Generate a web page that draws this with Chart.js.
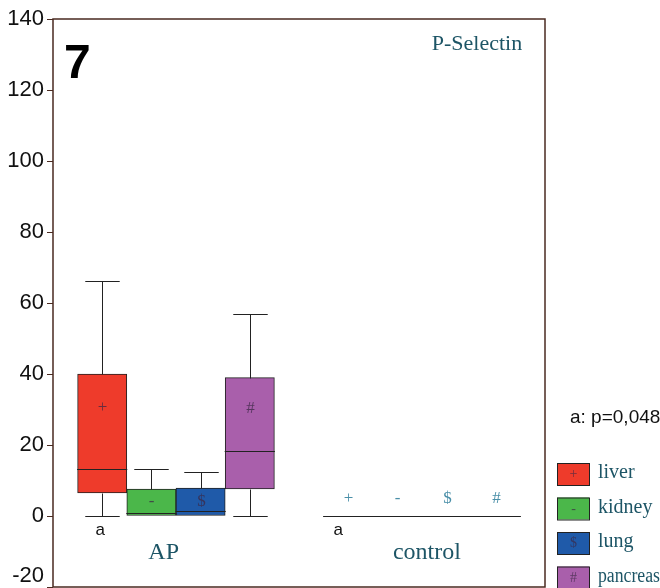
<!DOCTYPE html>
<html>
<head>
<meta charset="utf-8">
<style>
  html, body { margin: 0; padding: 0; background: #fff; }
  #wrap { width: 660px; height: 588px; }
</style>
<script src="https://cdn.jsdelivr.net/npm/chart.js"></script>
</head>
<body>
<div id="wrap"><canvas id="chart"></canvas></div>
<script>
// data
const groups = ['AP', 'control'];
const organs = ['liver', 'kidney', 'lung', 'pancreas'];
const symbols = ['+', '-', '$', '#'];
const colors = ['#ee3b2b', '#4bb74a', '#1f5aa9', '#a95fab'];

// AP: min, q1, median, q3, max, mean
const apMin = [0, 0, 0, 0];
const apQ1 = [6.5, 0, 0, 7.6];
const apMedian = [13.3, 0.8, 1.5, 18.2];
const apQ3 = [40, 7.6, 7.9, 39];
const apMax = [66.2, 13.3, 12.5, 57];
const apMean = [30.6, 4, 4, 30.4];

// control: all collapsed at zero
const ctrlMin = [0, 0, 0, 0];
const ctrlQ1 = [0, 0, 0, 0];
const ctrlMedian = [0, 0, 0, 0];
const ctrlQ3 = [0, 0, 0, 0];
const ctrlMax = [0, 0, 0, 0];
const ctrlMean = [5, 5, 5, 5];

const yMin = -20, yMax = 140, yStep = 20;
const pValueNote = 'a: p=0,048';
const panelNumber = '7';
const panelTitle = 'P-Selectin';

const stats = [
  { min: apMin, q1: apQ1, med: apMedian, q3: apQ3, max: apMax, mean: apMean },
  { min: ctrlMin, q1: ctrlQ1, med: ctrlMedian, q3: ctrlQ3, max: ctrlMax, mean: ctrlMean }
];

// x position: one unit per box, gap of one between groups
const xPos = (g, i) => g * 5 + i + 1;

const boxData = [], boxColors = [];
stats.forEach((s, g) => {
  organs.forEach((o, i) => {
    boxData.push({ x: xPos(g, i), y: [s.q1[i], s.q3[i]] });
    boxColors.push(colors[i]);
  });
});

const serif = '"Liberation Serif", "DejaVu Serif", serif';
const sans = '"Liberation Sans", Arial, sans-serif';
const teal = '#1d5566';
const frame = '#4a2a20';

const boxPlugin = {
  id: 'boxExtras',
  afterDatasetsDraw(chart) {
    const ctx = chart.ctx;
    const x = chart.scales.x, y = chart.scales.y;
    const half = (x.getPixelForValue(1) - x.getPixelForValue(0)) / 2;
    const cap = half * 0.7;
    ctx.save();
    ctx.strokeStyle = '#222';
    ctx.lineWidth = 1;
    stats.forEach((s, g) => {
      organs.forEach((o, i) => {
        const xc = x.getPixelForValue(xPos(g, i));
        const cx = Math.round(xc) + 0.5;
        const line = (x1, y1, x2, y2) => {
          ctx.beginPath(); ctx.moveTo(x1, y1); ctx.lineTo(x2, y2); ctx.stroke();
        };
        const py = v => Math.round(y.getPixelForValue(v)) + 0.5;
        // whiskers
        if (s.max[i] > s.q3[i]) line(cx, py(s.q3[i]), cx, py(s.max[i]));
        if (s.min[i] < s.q1[i]) line(cx, py(s.q1[i]), cx, py(s.min[i]));
        if (g === 0) {
          line(cx - cap, py(s.max[i]), cx + cap, py(s.max[i]));
          if (s.min[i] < s.q1[i]) line(cx - cap, py(s.min[i]), cx + cap, py(s.min[i]));
        }
        // median
        line(xc - half - 0.5, py(s.med[i]), xc + half + 0.5, py(s.med[i]));
        // mean marker
        ctx.fillStyle = g === 0 ? 'rgba(60,40,70,0.75)' : '#4a8fa8';
        ctx.font = '17px ' + serif;
        ctx.textAlign = 'center';
        ctx.textBaseline = 'middle';
        ctx.fillText(symbols[i], cx, y.getPixelForValue(s.mean[i]));
      });
      // significance letter under liver
      ctx.fillStyle = '#111';
      ctx.font = '17px ' + sans;
      ctx.textAlign = 'center';
      ctx.textBaseline = 'middle';
      ctx.fillText('a', x.getPixelForValue(xPos(g, 0)) - (g === 0 ? 2 : 10), y.getPixelForValue(yMin) - 57);
    });
    ctx.restore();
  },
  afterDraw(chart) {
    const ctx = chart.ctx;
    const a = chart.chartArea;
    const x = chart.scales.x, y = chart.scales.y;
    ctx.save();
    // frame
    ctx.strokeStyle = frame;
    ctx.lineWidth = 1.5;
    ctx.strokeRect(a.left, a.top, a.right - a.left, a.bottom - a.top);

    // lowest tick label sits above its tick, inside the canvas
    ctx.fillStyle = '#111';
    ctx.font = '22px ' + sans;
    ctx.textAlign = 'right';
    ctx.textBaseline = 'middle';
    ctx.fillText(String(yMin), a.left - 9, y.getPixelForValue(yMin) - 11);

    // panel number
    ctx.fillStyle = '#000';
    ctx.font = 'bold 48px ' + sans;
    ctx.textAlign = 'left';
    ctx.textBaseline = 'alphabetic';
    ctx.fillText(panelNumber, a.left + 11, a.top + 59);

    // title
    ctx.fillStyle = teal;
    ctx.font = '22px ' + serif;
    ctx.textAlign = 'center';
    ctx.fillText(panelTitle, a.right - 68, a.top + 31);

    // group labels
    ctx.font = '24px ' + serif;
    ctx.fillText(groups[0], x.getPixelForValue(2.25), a.bottom - 28);
    ctx.fillText(groups[1], x.getPixelForValue(7.6), a.bottom - 28);

    // p-value note
    ctx.fillStyle = '#111';
    ctx.font = '19px ' + sans;
    ctx.textAlign = 'left';
    ctx.textBaseline = 'middle';
    ctx.fillText(pValueNote, a.right + 25, 418);

    // legend
    organs.forEach((o, i) => {
      const top = 463 + i * 34.5;
      ctx.fillStyle = colors[i];
      ctx.fillRect(557, top, 32, 22);
      ctx.strokeStyle = '#222';
      ctx.lineWidth = 1;
      ctx.strokeRect(557.5, top + 0.5, 32, 22);
      ctx.fillStyle = 'rgba(60,40,70,0.7)';
      ctx.font = '14px ' + serif;
      ctx.textAlign = 'center';
      ctx.fillText(symbols[i], 573.5, top + 11.5);
      ctx.fillStyle = teal;
      ctx.font = '20px ' + serif;
      ctx.textAlign = 'left';
      ctx.fillText(o, 598, top + 10, 62);
    });
    ctx.restore();
  }
};

new Chart(document.getElementById('chart').getContext('2d'), {
  type: 'bar',
  data: {
    datasets: [{
      data: boxData,
      backgroundColor: boxColors,
      borderColor: '#222',
      borderWidth: 1,
      borderSkipped: false,
      barPercentage: 1,
      categoryPercentage: 1
    }]
  },
  options: {
    responsive: true,
    maintainAspectRatio: false,
    animation: false,
    layout: { padding: { left: 0, right: 115, top: 19, bottom: 1 } },
    plugins: { legend: { display: false }, tooltip: { enabled: false } },
    scales: {
      x: {
        type: 'linear',
        min: 0,
        max: 10,
        offset: false,
        display: false,
        ticks: { stepSize: 1 }
      },
      y: {
        min: yMin,
        max: yMax,
        afterFit: s => { s.width = 53; s.paddingTop = 0; s.paddingBottom = 0; },
        ticks: {
          stepSize: yStep,
          padding: 3,
          color: '#111',
          font: { family: sans, size: 22 },
          callback: v => (v === yMin ? '' : v)
        },
        grid: { drawOnChartArea: false, drawTicks: true, tickLength: 6, color: frame },
        border: { display: false }
      }
    }
  },
  plugins: [boxPlugin]
});
</script>
</body>
</html>
